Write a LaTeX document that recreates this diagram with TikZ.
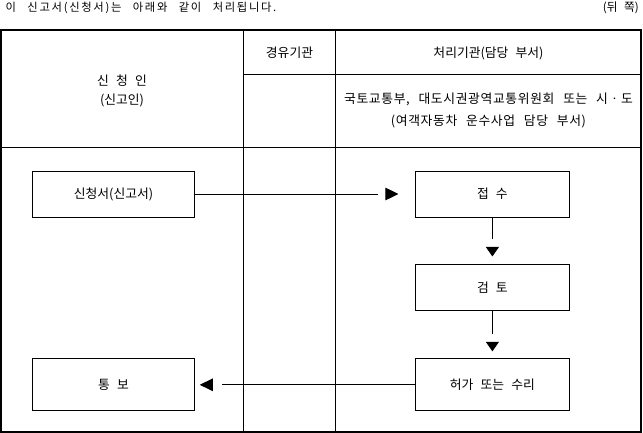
\documentclass[tikz,border=0pt]{standalone}
\usepackage{fontspec}
\setmainfont{Noto Sans CJK KR}[WordSpace=2.5]
\newfontfamily\titlefont{Noto Sans CJK KR}[LetterSpace=15, WordSpace=2.7]
\usepackage{tikz}
\usetikzlibrary{arrows.meta, positioning, decorations.markings}

\begin{document}
\begin{tikzpicture}[
    x=1pt, y=-1pt,
    font=\fontsize{12.8}{15}\selectfont,
    % Line and node styles
    frame/.style={line width=2pt},
    grid/.style={line width=0.9pt},
    cell/.style={align=center, inner sep=0pt},
    stepbox/.style={rectangle, draw, line width=0.9pt, minimum height=46pt, inner sep=0pt},
    leftbox/.style={stepbox, minimum width=162pt},
    rightbox/.style={stepbox, minimum width=154pt},
    % arrow: #1 = line stops short, #2 = tip stops short
    harrow/.style 2 args={line width=0.9pt, shorten >=#1, postaction={decorate},
        decoration={markings, mark=at position -#2 with {\arrow{Triangle[length=13pt, width=12.5pt]}}}},
    varrow/.style 2 args={line width=0.9pt, shorten >=#1, postaction={decorate},
        decoration={markings, mark=at position -#2 with {\arrow{Triangle[length=9.5pt, width=13pt]}}}},
]

% Page size
\useasboundingbox (0,0) rectangle (643,433);

% Table rules
\draw[grid] (243.5,30) -- (243.5,432);
\draw[grid] (335.5,30) -- (335.5,432);
\draw[grid] (243.5,74.5) -- (641,74.5);
\draw[grid] (1,147) -- (641,147);
\draw[frame] (1,30) rectangle (641,432);

% Caption line
\node[anchor=west, inner sep=0pt, font=\titlefont\fontsize{11.3}{14}\selectfont] (title) at (5.5,8)
    {이 신고서(신청서)는 아래와 같이 처리됩니다.};
\node[anchor=east, inner sep=0pt, font=\fontsize{11.7}{14}\selectfont] (side) at (639,8) {(뒤 쪽)};

% Header cells
\node[cell, font=\fontsize{12.8}{19}\selectfont] (applicant) at (122,90.5) {신 청 인\\(신고인)};
\node[cell] (via) at (289.5,53) {경유기관};
\node[cell] (handler) at (488.5,53) {처리기관(담당 부서)};
\node[cell, font=\fontsize{12.8}{22}\selectfont\addfontfeatures{LetterSpace=5}] (dept) at (488.5,110)
    {국토교통부, 대도시권광역교통위원회 또는 시ㆍ도\\(여객자동차 운수사업 담당 부서)};

% Process boxes
\node[leftbox] (form) at (113.5,194) {신청서(신고서)};
\node[rightbox, right=220pt of form] (receipt) {접 수};
\node[rightbox, below=47pt of receipt] (review) {검 토};
\node[rightbox, below=47pt of review, minimum height=52pt] (permit) {허가 또는 수리};
\node[leftbox, left=220pt of permit, minimum height=52pt] (notice) {통 보};

% Flow arrows
\draw[harrow={36.5pt}{16.5pt}] (form) -- (receipt);
\draw[varrow={25pt}{8pt}] (receipt) -- (review);
\draw[varrow={24pt}{7pt}] (review) -- (permit);
\draw[harrow={27.5pt}{4.8pt}] (permit) -- (notice);

\end{tikzpicture}
\end{document}
